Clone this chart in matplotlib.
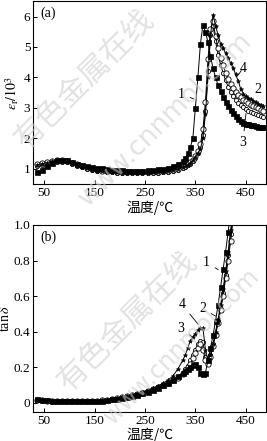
import matplotlib
matplotlib.use("Agg")
import matplotlib.pyplot as plt
from matplotlib.ticker import FixedLocator, FuncFormatter

plt.rcParams['font.family'] = ['Liberation Serif', 'Noto Sans CJK SC', 'DejaVu Sans']
plt.rcParams['mathtext.fontset'] = 'stix'

# temperature grid (deg C)
temp = [35, 45, 55, 65, 75, 85, 95, 105, 115, 125, 135, 145, 155, 165, 175,
        185, 195, 205, 215, 225, 235, 245, 255, 265, 275, 285, 295, 305, 315, 325,
        330, 335, 340, 345, 350, 355, 360, 365, 370, 375, 380, 385, 390, 395, 400,
        405, 410, 415, 420, 425, 430, 435, 440, 445, 450, 455, 460, 465, 470, 475,
        480, 485]

# (a) eps_r / 10^3
eps1 = [0.88, 0.95, 1.08, 1.20, 1.27, 1.29, 1.27, 1.22, 1.17, 1.12, 1.08, 1.05, 1.03, 1.01, 0.99,
        0.97, 0.96, 0.95, 0.94, 0.94, 0.94, 0.94, 0.95, 0.96, 0.98, 1.00, 1.03, 1.08, 1.15, 1.25,
        1.35, 1.50, 1.70, 2.00, 3.00, 4.00, 5.10, 5.72, 5.50, 5.15, 4.70, 4.30, 4.00, 3.75, 3.55,
        3.37, 3.20, 3.06, 2.93, 2.82, 2.72, 2.63, 2.56, 2.51, 2.48, 2.46, 2.44, 2.42, 2.40, 2.38,
        2.37, 2.36]
eps2 = [1.15, 1.18, 1.22, 1.26, 1.28, 1.28, 1.25, 1.20, 1.14, 1.08, 1.03, 0.99, 0.96, 0.94, 0.92,
        0.91, 0.90, 0.89, 0.88, 0.88, 0.88, 0.88, 0.88, 0.89, 0.90, 0.91, 0.93, 0.96, 1.00, 1.06,
        1.10, 1.15, 1.22, 1.30, 1.42, 1.58, 1.80, 2.30, 3.20, 4.60, 5.60, 5.85, 5.35, 4.95, 4.65,
        4.40, 4.15, 3.95, 3.78, 3.64, 3.52, 3.42, 3.34, 3.27, 3.21, 3.15, 3.10, 3.06, 3.02, 2.98,
        2.94, 2.91]
eps3 = [1.10, 1.13, 1.17, 1.21, 1.23, 1.23, 1.21, 1.16, 1.10, 1.05, 1.00, 0.96, 0.93, 0.91, 0.89,
        0.88, 0.87, 0.86, 0.85, 0.85, 0.85, 0.85, 0.85, 0.86, 0.87, 0.88, 0.90, 0.93, 0.97, 1.02,
        1.06, 1.11, 1.17, 1.25, 1.36, 1.50, 1.70, 2.10, 2.90, 4.20, 5.40, 5.70, 5.20, 4.75, 4.42,
        4.15, 3.90, 3.70, 3.53, 3.39, 3.27, 3.17, 3.09, 3.02, 2.96, 2.91, 2.86, 2.82, 2.79, 2.76,
        2.73, 2.71]
eps4 = [1.13, 1.16, 1.20, 1.24, 1.26, 1.26, 1.23, 1.18, 1.12, 1.06, 1.01, 0.97, 0.94, 0.92, 0.90,
        0.89, 0.88, 0.87, 0.87, 0.87, 0.87, 0.87, 0.87, 0.88, 0.89, 0.90, 0.92, 0.95, 0.99, 1.04,
        1.08, 1.13, 1.19, 1.27, 1.38, 1.52, 1.65, 2.00, 2.80, 4.00, 5.40, 6.05, 5.70, 5.40, 5.10,
        4.95, 4.80, 4.63, 4.47, 4.30, 4.10, 3.88, 3.62, 3.47, 3.38, 3.33, 3.29, 3.24, 3.19, 3.14,
        3.10, 3.07]

# (b) tan delta
temp_b = [35, 45, 55, 65, 75, 85, 95, 105, 115, 125, 135, 145, 155, 165, 175,
          185, 195, 205, 215, 225, 235, 245, 255, 265, 275, 285, 295, 305, 315, 325,
          330, 335, 340, 345, 350, 355, 360, 365, 370, 375, 380, 385, 390, 395, 400,
          405, 410, 415, 420, 425, 430]
tan1 = [0.020, 0.018, 0.015, 0.013, 0.012, 0.011, 0.010, 0.010, 0.010, 0.010, 0.010, 0.010, 0.011, 0.013, 0.016,
        0.020, 0.024, 0.029, 0.034, 0.040, 0.047, 0.054, 0.063, 0.074, 0.086, 0.100, 0.113, 0.130, 0.150, 0.170,
        0.180, 0.190, 0.200, 0.215, 0.220, 0.200, 0.170, 0.160, 0.170, 0.240, 0.310, 0.380, 0.460, 0.550, 0.650,
        0.750, 0.850, 0.960, 1.080, 1.200, 1.350]
tan2 = [0.016, 0.014, 0.012, 0.011, 0.010, 0.010, 0.009, 0.009, 0.009, 0.009, 0.009, 0.010, 0.011, 0.014, 0.018,
        0.022, 0.027, 0.032, 0.037, 0.043, 0.050, 0.058, 0.067, 0.077, 0.088, 0.100, 0.112, 0.127, 0.143, 0.160,
        0.180, 0.200, 0.220, 0.250, 0.280, 0.310, 0.330, 0.300, 0.240, 0.220, 0.260, 0.320, 0.380, 0.450, 0.520,
        0.600, 0.700, 0.800, 0.910, 1.030, 1.150]
tan3 = [0.015, 0.013, 0.012, 0.011, 0.010, 0.010, 0.010, 0.009, 0.009, 0.009, 0.010, 0.010, 0.012, 0.015, 0.019,
        0.023, 0.028, 0.033, 0.039, 0.045, 0.052, 0.060, 0.069, 0.079, 0.090, 0.102, 0.115, 0.130, 0.148, 0.168,
        0.190, 0.210, 0.240, 0.270, 0.300, 0.330, 0.350, 0.340, 0.260, 0.230, 0.270, 0.330, 0.390, 0.460, 0.530,
        0.620, 0.720, 0.830, 0.950, 1.070, 1.200]
tan4 = [0.018, 0.016, 0.014, 0.012, 0.011, 0.011, 0.010, 0.010, 0.010, 0.010, 0.010, 0.011, 0.012, 0.015, 0.019,
        0.024, 0.029, 0.034, 0.040, 0.047, 0.055, 0.063, 0.072, 0.083, 0.095, 0.110, 0.128, 0.150, 0.190, 0.240,
        0.270, 0.310, 0.350, 0.370, 0.390, 0.410, 0.420, 0.420, 0.300, 0.240, 0.270, 0.330, 0.400, 0.470, 0.550,
        0.640, 0.740, 0.850, 0.970, 1.100, 1.220]

xticks = [50, 150, 250, 350, 450]

styles = [
    dict(marker='s', ms=3.6, mfc='k', mec='k', mew=0.5),
    dict(marker='o', ms=3.8, mfc='white', mec='k', mew=0.6),
    dict(marker='o', ms=3.0, mfc='white', mec='k', mew=0.6),
    dict(marker='*', ms=3.2, mfc='k', mec='k', mew=0.4),
]

fig = plt.figure(figsize=(2.67, 4.41), dpi=100)
ax1 = fig.add_axes([0.124, 0.583, 0.872, 0.414])
ax2 = fig.add_axes([0.124, 0.066, 0.872, 0.424])

for ys, st in zip([eps3, eps2, eps4, eps1], [styles[2], styles[1], styles[3], styles[0]]):
    ax1.plot(temp, ys, color='k', lw=0.7, **st)
for ys, st in zip([tan3, tan2, tan4, tan1], [styles[2], styles[1], styles[3], styles[0]]):
    ax2.plot(temp_b, ys, color='k', lw=0.7, **st)

ax1.set_xlim(28, 490)
ax1.set_ylim(0.5, 6.5)
ax1.yaxis.set_major_locator(FixedLocator([1, 2, 3, 4, 5, 6]))
ax2.set_xlim(28, 490)
ax2.set_ylim(-0.05, 1.0)
ax2.yaxis.set_major_locator(FixedLocator([0, 0.2, 0.4, 0.6, 0.8, 1.0]))
ax2.yaxis.set_major_formatter(FuncFormatter(lambda v, p: '0' if abs(v) < 1e-9 else '%.1f' % v))

for ax in (ax1, ax2):
    ax.xaxis.set_major_locator(FixedLocator(xticks))
    ax.tick_params(direction='in', length=3, width=0.7, labelsize=9.5, pad=2)
    for s in ax.spines.values():
        s.set_linewidth(0.8)
    ax.set_xlabel('温度/℃', fontsize=10, labelpad=1,
                  family=['Noto Sans CJK SC', 'DejaVu Sans'])

ax1.set_ylabel(r'$\varepsilon_{\mathrm{r}}/10^3$', fontsize=10, labelpad=2)
ax2.set_ylabel(r'tan$\,\delta$', fontsize=10, labelpad=1)

ax1.text(0.03, 0.97, '(a)', transform=ax1.transAxes, fontsize=10, va='top')
ax2.text(0.03, 0.97, '(b)', transform=ax2.transAxes, fontsize=10, va='top')

# curve labels with leader lines
arrow = dict(arrowstyle='-', lw=0.6, color='k')
ax1.annotate('1', xy=(352, 3.26), xytext=(322, 3.45), fontsize=10, ha='center', va='center', arrowprops=arrow)
ax1.annotate('4', xy=(432, 4.0), xytext=(444, 4.3), fontsize=10, ha='center', va='center', arrowprops=arrow)
ax1.annotate('2', xy=(452, 3.2), xytext=(474, 3.6), fontsize=10, ha='center', va='center', arrowprops=arrow)
ax1.annotate('3', xy=(451, 2.9), xytext=(444, 1.85), fontsize=10, ha='center', va='center', arrowprops=arrow)
ax2.annotate('1', xy=(400, 0.74), xytext=(372, 0.79), fontsize=10, ha='center', va='center', arrowprops=arrow)
ax2.annotate('2', xy=(395, 0.48), xytext=(364, 0.53), fontsize=10, ha='center', va='center', arrowprops=arrow)
ax2.annotate('4', xy=(359, 0.43), xytext=(323, 0.555), fontsize=10, ha='center', va='center', arrowprops=arrow)
ax2.annotate('3', xy=(349, 0.36), xytext=(321, 0.42), fontsize=10, ha='center', va='center', arrowprops=arrow)

# watermark
wm = dict(color='#cfcfcf', alpha=0.6, rotation=45, ha='center', va='center', zorder=0)
fig.text(0.32, 0.82, '有色金属在线', fontsize=22, family=['Noto Sans CJK SC'], **wm)
fig.text(0.62, 0.73, 'www.cnnmol.com', fontsize=19, family=['DejaVu Sans'], **wm)
fig.text(0.48, 0.27, '有色金属在线', fontsize=22, family=['Noto Sans CJK SC'], **wm)
fig.text(0.68, 0.215, 'www.cnnmol.com', fontsize=17, family=['DejaVu Sans'], **wm)

fig.savefig('out.png', dpi=100)
